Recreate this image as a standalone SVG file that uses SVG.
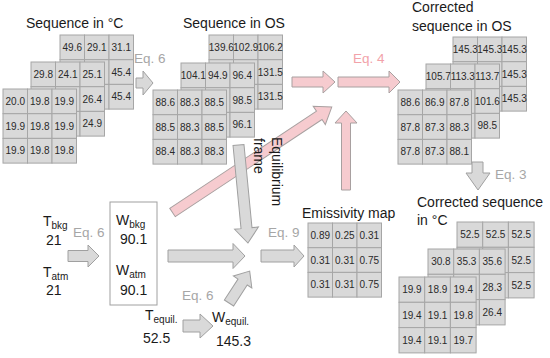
<svg xmlns="http://www.w3.org/2000/svg" width="550" height="358" viewBox="0 0 550 358">
<style>
text{font-family:"Liberation Sans",Arial,sans-serif;fill:#1a1a1a}
.t{font-size:14px}
.n{font-size:10px;text-anchor:middle;fill:#2a2a2a}
.eq{font-size:13.5px;fill:#a6a6a6}
.eqp{font-size:13.5px;fill:#f2a2a9}
.sub{font-size:10px}
.c{fill:#d9d9d9;stroke:#a6a6a6;stroke-width:1}
.ga{fill:#d9d9d9;stroke:#a0a0a0;stroke-width:1}
.pa{fill:#f6cbcf;stroke:#a8a0a0;stroke-width:1}
</style>
<defs>
<g id="g3">
<rect class="c" x="0" y="0" width="24.5" height="24.7"/><rect class="c" x="24.5" y="0" width="24.5" height="24.7"/><rect class="c" x="49" y="0" width="24.5" height="24.7"/>
<rect class="c" x="0" y="24.7" width="24.5" height="24.7"/><rect class="c" x="24.5" y="24.7" width="24.5" height="24.7"/><rect class="c" x="49" y="24.7" width="24.5" height="24.7"/>
<rect class="c" x="0" y="49.4" width="24.5" height="24.7"/><rect class="c" x="24.5" y="49.4" width="24.5" height="24.7"/><rect class="c" x="49" y="49.4" width="24.5" height="24.7"/>
</g>
<g id="g4">
<rect class="c" x="0" y="0" width="25.7" height="25.3"/><rect class="c" x="25.7" y="0" width="25.7" height="25.3"/><rect class="c" x="51.4" y="0" width="25.7" height="25.3"/>
<rect class="c" x="0" y="25.3" width="25.7" height="25.3"/><rect class="c" x="25.7" y="25.3" width="25.7" height="25.3"/><rect class="c" x="51.4" y="25.3" width="25.7" height="25.3"/>
<rect class="c" x="0" y="50.6" width="25.7" height="25.3"/><rect class="c" x="25.7" y="50.6" width="25.7" height="25.3"/><rect class="c" x="51.4" y="50.6" width="25.7" height="25.3"/>
</g>
</defs>

<g id="connectors">
<polygon class="pa" transform="translate(172.5,212.5) rotate(-33.5)" points="0,-5 176,-5 176,-11 191,0 176,11 176,5 0,5"/>
<polygon class="pa" points="292,77 323,77 323,71 335,82 323,93 323,87 292,87"/>
<polygon class="pa" points="338,77 389,77 389,71 400,82 389,93 389,87 338,87"/>
<polygon class="pa" points="341.5,190 341.5,123 335,123 346,111 357,123 350.5,123 350.5,190"/>
<polygon class="ga" points="136,78 143,78 143,71 153,83 143,95 143,88 136,88"/>
<polygon class="ga" points="68,250.5 88,250.5 88,245 99,256 88,267 88,261.5 68,261.5"/>
<polygon class="ga" points="168,250 233,250 233,243.5 245,256 233,268.5 233,262 168,262"/>
<polygon class="ga" points="261,250 294,250 294,245 304,256 294,267 294,262 261,262"/>
<polygon class="ga" points="183,320 200,320 200,314 213,326 200,338 200,332 183,332"/>
<polygon class="ga" points="472,162 483,162 483,173 490,173 478,190 466,173 472,173"/>
<polygon class="ga" transform="translate(229,303) rotate(-57)" points="0,-5.5 25,-5.5 25,-11 38,0 25,11 25,5.5 0,5.5"/>
<polygon class="ga" transform="translate(238.5,145) rotate(84.5)" points="0,-5.5 83.5,-5.5 83.5,-12 98.5,0 83.5,12 83.5,5.5 0,5.5"/>
<text class="eq" x="134" y="63">Eq. 6</text>
<text class="eq" x="73" y="237">Eq. 6</text>
<text class="eq" x="182" y="300">Eq. 6</text>
<text class="eq" x="268" y="237">Eq. 9</text>
<text class="eq" x="495" y="179">Eq. 3</text>
<text class="eqp" x="353" y="63">Eq. 4</text>
<text class="t" transform="translate(272,137) rotate(90)">Equilibrium</text>
<text class="t" transform="translate(254,138) rotate(90)">frame</text>
</g>

<g id="seq-c">
<text class="t" x="26" y="28">Sequence in °C</text>
<use href="#g3" x="60" y="35"/>
<text class="n" x="72.3" y="51">49.6</text><text class="n" x="96.8" y="51">29.1</text><text class="n" x="121.3" y="51">31.1</text>
<text class="n" x="121.3" y="75.5">45.4</text><text class="n" x="121.3" y="100">45.4</text>
<use href="#g3" x="31" y="62"/>
<text class="n" x="43.3" y="78">29.8</text><text class="n" x="67.8" y="78">24.1</text><text class="n" x="92.3" y="78">25.1</text>
<text class="n" x="92.3" y="102.5">26.4</text><text class="n" x="92.3" y="127">24.9</text>
<use href="#g3" x="3" y="89"/>
<text class="n" x="15.3" y="105">20.0</text><text class="n" x="39.8" y="105">19.8</text><text class="n" x="64.3" y="105">19.9</text>
<text class="n" x="15.3" y="129.5">19.9</text><text class="n" x="39.8" y="129.5">19.8</text><text class="n" x="64.3" y="129.5">19.9</text>
<text class="n" x="15.3" y="154">19.9</text><text class="n" x="39.8" y="154">19.8</text><text class="n" x="64.3" y="154">19.8</text>
</g>

<g id="seq-os">
<text class="t" x="183" y="28">Sequence in OS</text>
<use href="#g3" x="209" y="35"/>
<text class="n" x="221.3" y="51">139.6</text><text class="n" x="245.8" y="51">102.9</text><text class="n" x="270.3" y="51">106.2</text>
<text class="n" x="270.3" y="75.5">131.5</text><text class="n" x="270.3" y="100">131.5</text>
<use href="#g3" x="181" y="63"/>
<text class="n" x="193.3" y="79">104.1</text><text class="n" x="217.8" y="79">94.9</text><text class="n" x="242.3" y="79">96.4</text>
<text class="n" x="242.3" y="103.5">98.5</text><text class="n" x="242.3" y="128">96.1</text>
<use href="#g3" x="153" y="90"/>
<text class="n" x="165.3" y="106">88.6</text><text class="n" x="189.8" y="106">88.3</text><text class="n" x="214.3" y="106">88.5</text>
<text class="n" x="165.3" y="130.5">88.5</text><text class="n" x="189.8" y="130.5">88.3</text><text class="n" x="214.3" y="130.5">88.5</text>
<text class="n" x="165.3" y="155">88.4</text><text class="n" x="189.8" y="155">88.3</text><text class="n" x="214.3" y="155">88.3</text>
</g>

<g id="corr-os">
<text class="t" x="412" y="12">Corrected</text>
<text class="t" x="412" y="31">sequence in OS</text>
<use href="#g3" x="453" y="37"/>
<text class="n" x="465.3" y="53">145.3</text><text class="n" x="489.8" y="53">145.3</text><text class="n" x="514.3" y="53">145.3</text>
<text class="n" x="514.3" y="77.5">145.3</text><text class="n" x="514.3" y="102">145.3</text>
<use href="#g3" x="426" y="64"/>
<text class="n" x="438.3" y="80">105.7</text><text class="n" x="462.8" y="80">113.3</text><text class="n" x="487.3" y="80">113.7</text>
<text class="n" x="487.3" y="104.5">101.6</text><text class="n" x="487.3" y="129">98.5</text>
<use href="#g3" x="398" y="90"/>
<text class="n" x="410.3" y="106">88.6</text><text class="n" x="434.8" y="106">86.9</text><text class="n" x="459.3" y="106">87.8</text>
<text class="n" x="410.3" y="130.5">87.8</text><text class="n" x="434.8" y="130.5">87.3</text><text class="n" x="459.3" y="130.5">88.3</text>
<text class="n" x="410.3" y="155">87.8</text><text class="n" x="434.8" y="155">87.3</text><text class="n" x="459.3" y="155">88.1</text>
</g>

<g id="corr-c">
<text class="t" x="417" y="207">Corrected sequence</text>
<text class="t" x="417" y="225">in °C</text>
<use href="#g4" x="457" y="222"/>
<text class="n" x="469.9" y="238.2">52.5</text><text class="n" x="495.6" y="238.2">52.5</text><text class="n" x="521.3" y="238.2">52.5</text>
<text class="n" x="521.3" y="263.5">52.5</text><text class="n" x="521.3" y="288.8">52.5</text>
<use href="#g4" x="428" y="249"/>
<text class="n" x="440.9" y="265.2">30.8</text><text class="n" x="466.6" y="265.2">35.3</text><text class="n" x="492.3" y="265.2">35.6</text>
<text class="n" x="492.3" y="290.5">28.3</text><text class="n" x="492.3" y="315.8">26.4</text>
<use href="#g4" x="399" y="277"/>
<text class="n" x="411.9" y="293.2">19.9</text><text class="n" x="437.6" y="293.2">18.9</text><text class="n" x="463.3" y="293.2">19.4</text>
<text class="n" x="411.9" y="318.5">19.4</text><text class="n" x="437.6" y="318.5">19.1</text><text class="n" x="463.3" y="318.5">19.8</text>
<text class="n" x="411.9" y="343.8">19.4</text><text class="n" x="437.6" y="343.8">19.1</text><text class="n" x="463.3" y="343.8">19.7</text>
</g>

<g id="emissivity">
<text class="t" x="302" y="218">Emissivity map</text>
<use href="#g3" x="308" y="223"/>
<text class="n" x="320.3" y="239">0.89</text><text class="n" x="344.8" y="239">0.25</text><text class="n" x="369.3" y="239">0.31</text>
<text class="n" x="320.3" y="263.5">0.31</text><text class="n" x="344.8" y="263.5">0.31</text><text class="n" x="369.3" y="263.5">0.75</text>
<text class="n" x="320.3" y="288">0.31</text><text class="n" x="344.8" y="288">0.31</text><text class="n" x="369.3" y="288">0.75</text>
</g>

<g id="t-inputs">
<text class="t" x="43" y="226">T<tspan class="sub" dy="3">bkg</tspan></text>
<text class="t" x="46" y="245">21</text>
<text class="t" x="43" y="277">T<tspan class="sub" dy="3">atm</tspan></text>
<text class="t" x="46" y="295">21</text>
</g>

<g id="w-box">
<rect x="110" y="202" width="47" height="103" fill="#fff" stroke="#a0a0a0" stroke-width="1"/>
<text class="t" x="116" y="225">W<tspan class="sub" dy="3">bkg</tspan></text>
<text class="t" x="120" y="244">90.1</text>
<text class="t" x="116" y="275">W<tspan class="sub" dy="3">atm</tspan></text>
<text class="t" x="120" y="295">90.1</text>
</g>

<g id="t-equil">
<text class="t" x="145" y="320">T<tspan class="sub" dy="3">equil.</tspan></text>
<text class="t" x="143" y="343">52.5</text>
</g>

<g id="w-equil">
<text class="t" x="212" y="322">W<tspan class="sub" dy="3">equil.</tspan></text>
<text class="t" x="216" y="346">145.3</text>
</g>
</svg>
